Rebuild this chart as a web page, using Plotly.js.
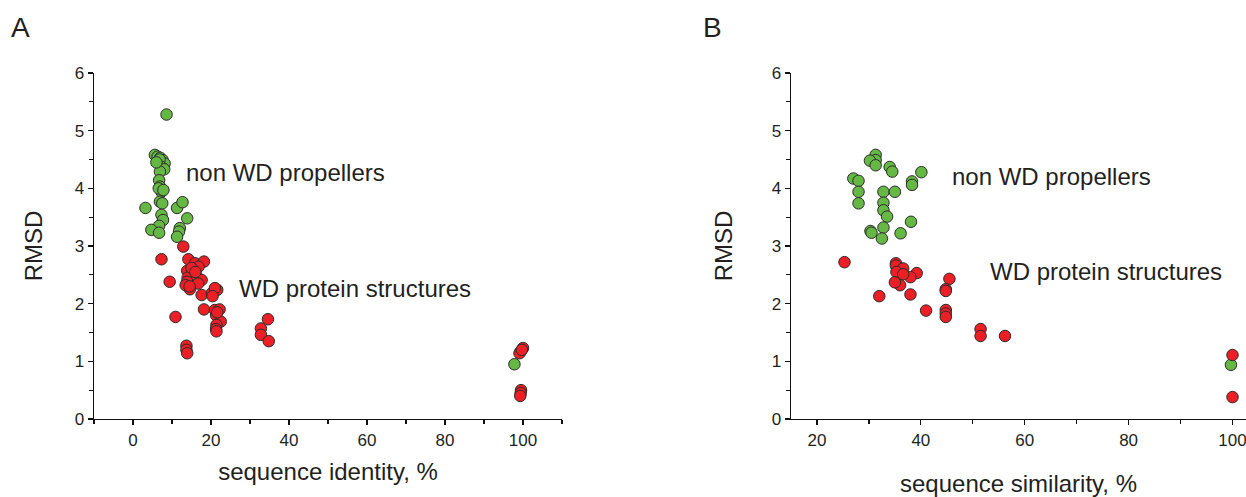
<!DOCTYPE html>
<html>
<head>
<meta charset="utf-8">
<script src="https://cdn.plot.ly/plotly-3.0.1.min.js"></script>
<style>html,body{margin:0;padding:0;background:#fff;}#chart{width:1246px;height:497px;}</style>
</head>
<body>
<div id="chart"></div>
<script>
// Panel A: sequence identity vs RMSD
const identityNonWD = [8.6, 5.6, 6.3, 7.0, 7.6, 8.1, 6.8, 7.3, 8.0, 6.9, 6.7, 6.9, 7.3, 6.6, 6.9, 7.5, 3.2, 11.3, 12.7, 13.9, 7.3, 7.7, 6.7, 4.7, 6.7, 12.0, 11.8, 11.3, 97.8, 6.0, 7.8];
const rmsdNonWD_A   = [5.28, 4.58, 4.55, 4.53, 4.49, 4.43, 4.50, 4.37, 4.33, 4.29, 4.14, 4.03, 3.94, 4.00, 3.77, 3.74, 3.66, 3.66, 3.76, 3.48, 3.54, 3.45, 3.35, 3.28, 3.23, 3.31, 3.25, 3.16, 0.95, 4.45, 3.97];
const identityWD = [12.9, 7.3, 14.2, 15.9, 18.2, 16.8, 13.9, 15.3, 14.0, 16.4, 9.4, 13.9, 17.6, 16.7, 14.6, 13.5, 17.6, 20.2, 21.6, 21.0, 18.2, 21.0, 22.2, 21.3, 22.5, 21.4, 21.3, 10.9, 13.7, 13.7, 13.9, 34.6, 32.8, 32.8, 34.8, 100.0, 99.4, 99.1, 99.7, 99.5, 99.4, 99.3, 21.4, 21.6, 20.4, 15.0, 14.5, 16.0];
const rmsdWD_A   = [2.99, 2.77, 2.77, 2.70, 2.73, 2.64, 2.57, 2.52, 2.45, 2.47, 2.38, 2.38, 2.41, 2.35, 2.25, 2.32, 2.15, 2.18, 2.24, 2.27, 1.90, 1.89, 1.90, 1.80, 1.69, 1.63, 1.56, 1.77, 1.27, 1.20, 1.14, 1.73, 1.57, 1.46, 1.35, 1.23, 1.17, 1.14, 1.20, 0.50, 0.45, 0.40, 1.52, 1.85, 2.13, 2.62, 2.30, 2.55];

// Panel B: sequence similarity vs RMSD
const similarityNonWD = [31.3, 31.3, 30.2, 31.3, 34.0, 34.5, 40.1, 27.0, 28.0, 38.3, 38.3, 28.0, 28.0, 32.8, 35.0, 32.8, 32.8, 33.5, 38.1, 32.8, 30.3, 30.5, 36.1, 32.5, 99.7];
const rmsdNonWD_B     = [4.58, 4.49, 4.48, 4.40, 4.37, 4.29, 4.28, 4.17, 4.13, 4.12, 4.06, 3.94, 3.74, 3.94, 3.94, 3.75, 3.62, 3.51, 3.42, 3.32, 3.26, 3.23, 3.22, 3.13, 0.94];
const similarityWD = [25.3, 35.2, 35.2, 36.6, 35.3, 39.2, 38.0, 36.6, 36.0, 35.0, 45.5, 44.8, 44.8, 32.0, 38.0, 41.0, 44.8, 44.8, 44.8, 51.5, 51.5, 56.2, 100, 100];
const rmsdWD_B     = [2.72, 2.70, 2.66, 2.61, 2.55, 2.53, 2.46, 2.51, 2.32, 2.37, 2.43, 2.25, 2.22, 2.13, 2.16, 1.88, 1.89, 1.83, 1.77, 1.56, 1.44, 1.44, 1.11, 0.38];

const labels = {
  panelA: "A", panelB: "B",
  nonWD: "non WD propellers", wd: "WD protein structures",
  xA: "sequence identity, %", xB: "sequence similarity, %", y: "RMSD"
};

const GREEN = "#66b844", RED = "#ec1f26", EDGE = "#2b2b2b", TXT = "#231f20";
const FONT = "Liberation Sans, Arial, Helvetica, sans-serif";
const mk = c => ({size: 11.5, color: c, line: {color: EDGE, width: 1}});

const traces = [
  {x: identityNonWD, y: rmsdNonWD_A, type: "scatter", mode: "markers", marker: mk(GREEN), xaxis: "x", yaxis: "y", name: labels.nonWD},
  {x: identityWD, y: rmsdWD_A, type: "scatter", mode: "markers", marker: mk(RED), xaxis: "x", yaxis: "y", name: labels.wd},
  {x: similarityNonWD, y: rmsdNonWD_B, type: "scatter", mode: "markers", marker: mk(GREEN), xaxis: "x2", yaxis: "y2", name: labels.nonWD},
  {x: similarityWD, y: rmsdWD_B, type: "scatter", mode: "markers", marker: mk(RED), xaxis: "x2", yaxis: "y2", name: labels.wd}
];

const W = 1246, H = 497;
const yDom = [(H - 419) / H, (H - 73) / H];
const axisCommon = {
  showline: true, linecolor: "#111", linewidth: 1.3, mirror: false,
  showgrid: false, zeroline: false, ticks: "outside", ticklen: 5, tickwidth: 1.2, tickcolor: "#111",
  tickfont: {family: FONT, size: 17, color: TXT}, ticklabeloverflow: "allow", fixedrange: true
};
const xMinor = {dtick: 10, ticks: "outside", ticklen: 4, tickwidth: 1.2, tickcolor: "#111", showgrid: false};
const yMinor = {dtick: 0.5, ticks: "outside", ticklen: 4, tickwidth: 1.2, tickcolor: "#111", showgrid: false};
const titleFont = {family: FONT, size: 24, color: TXT};
const textFont = {family: FONT, size: 24, color: TXT};

const layout = {
  width: W, height: H,
  margin: {l: 0, r: 0, t: 0, b: 0},
  paper_bgcolor: "#fff", plot_bgcolor: "#fff",
  showlegend: false,
  font: {family: FONT, color: TXT},
  xaxis: Object.assign({}, axisCommon, {
    domain: [94 / W, 562 / W], range: [-10, 110], tick0: 0, dtick: 20, minor: Object.assign({tick0: -10}, xMinor),
    anchor: "y", title: {text: labels.xA, font: titleFont, standoff: 14}
  }),
  yaxis: Object.assign({}, axisCommon, {
    domain: yDom, range: [0, 6], tick0: 0, dtick: 1, minor: yMinor, anchor: "x",
    title: {text: labels.y, font: titleFont, standoff: 25}
  }),
  xaxis2: Object.assign({}, axisCommon, {
    domain: [791 / W, 1], range: [15, 102.6], tick0: 0, dtick: 20, minor: Object.assign({tick0: 10}, xMinor),
    anchor: "y2", title: {text: labels.xB, font: titleFont, standoff: 29}
  }),
  yaxis2: Object.assign({}, axisCommon, {
    domain: yDom, range: [0, 6], tick0: 0, dtick: 1, minor: yMinor, anchor: "x2",
    title: {text: labels.y, font: titleFont, standoff: 32}
  }),
  annotations: [
    {text: labels.panelA, xref: "paper", yref: "paper", x: 9 / W, y: 1 - 10 / H, xanchor: "left", yanchor: "top", showarrow: false, font: {family: FONT, size: 28, color: TXT}},
    {text: labels.panelB, xref: "paper", yref: "paper", x: 701 / W, y: 1 - 10 / H, xanchor: "left", yanchor: "top", showarrow: false, font: {family: FONT, size: 28, color: TXT}},
    {text: labels.nonWD, xref: "x", yref: "y", x: 13.2, y: 4.27, xanchor: "left", yanchor: "middle", showarrow: false, font: textFont},
    {text: labels.wd, xref: "x", yref: "y", x: 26.6, y: 2.26, xanchor: "left", yanchor: "middle", showarrow: false, font: textFont},
    {text: labels.nonWD, xref: "x2", yref: "y2", x: 45.6, y: 4.2, xanchor: "left", yanchor: "middle", showarrow: false, font: textFont},
    {text: labels.wd, xref: "x2", yref: "y2", x: 53.0, y: 2.55, xanchor: "left", yanchor: "middle", showarrow: false, font: textFont}
  ]
};

Plotly.newPlot("chart", traces, layout, {staticPlot: true, displayModeBar: false});
</script>
</body>
</html>
